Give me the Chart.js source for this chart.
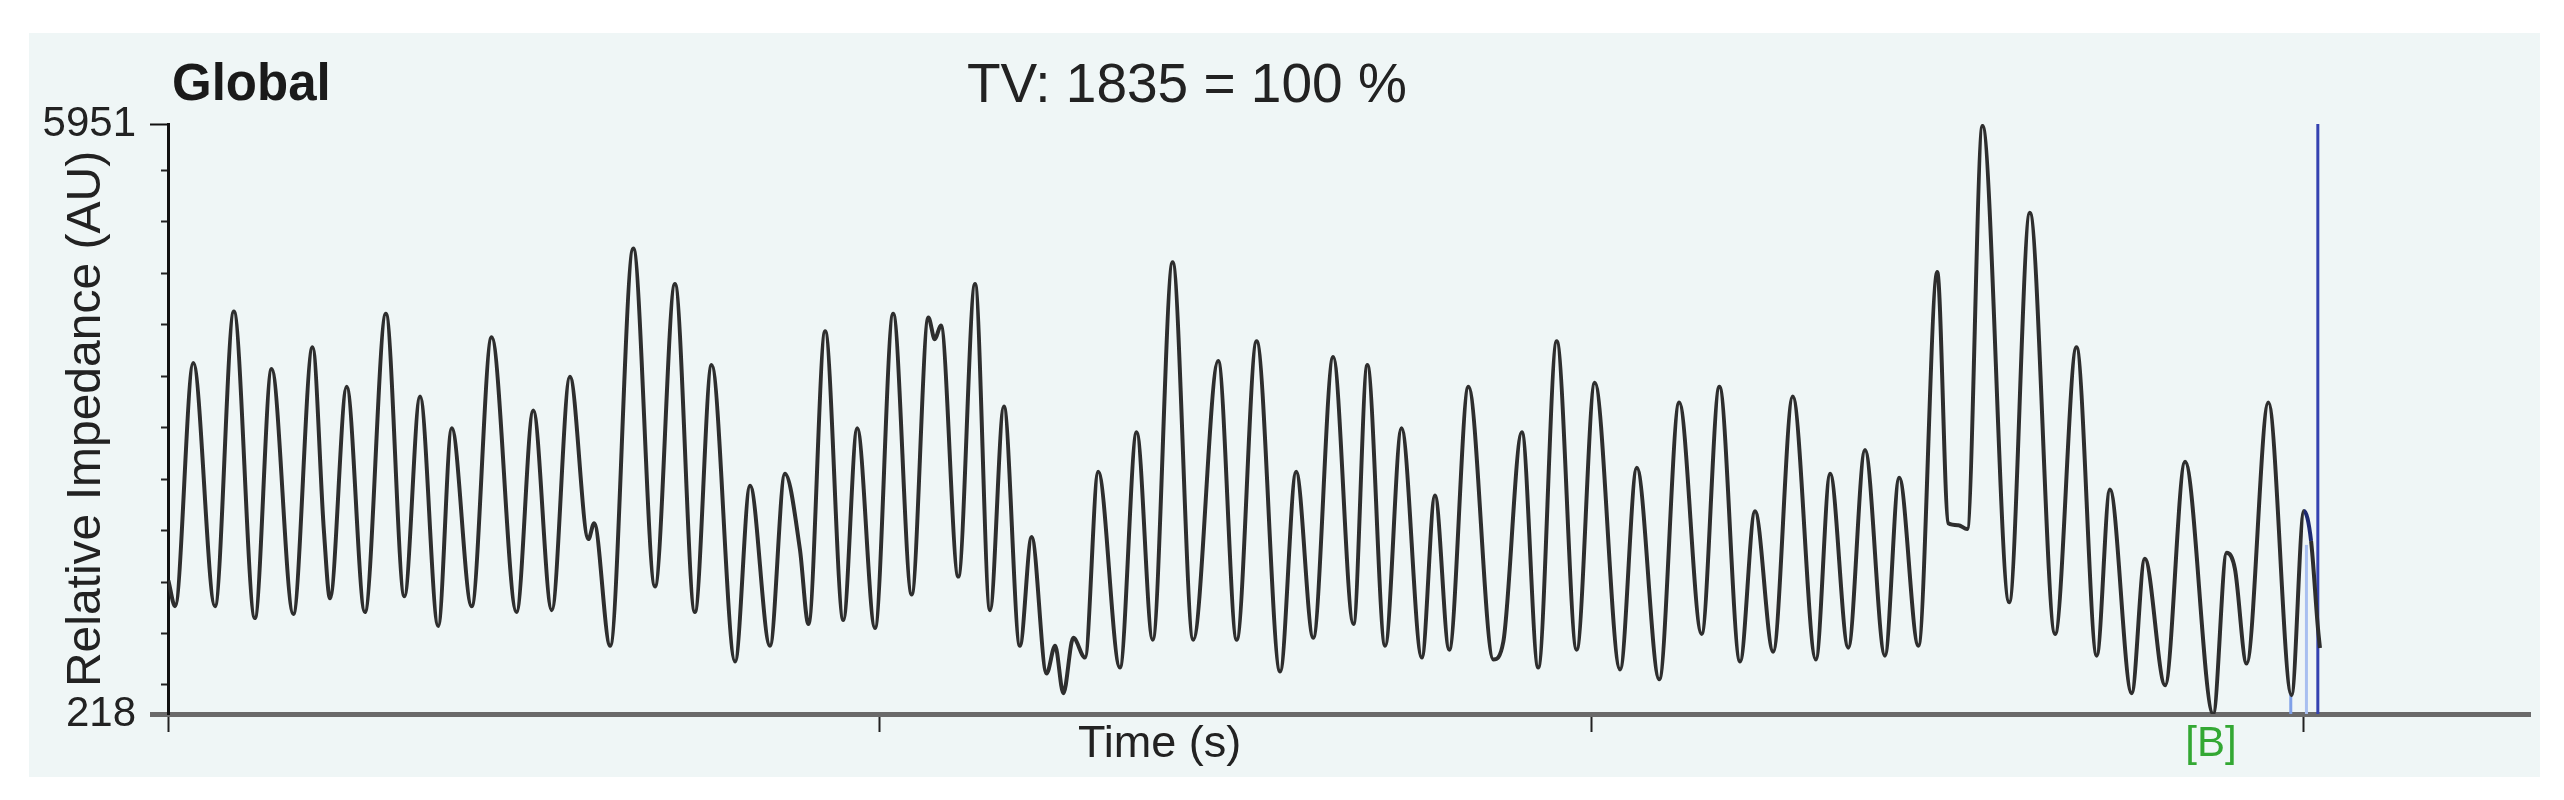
<!DOCTYPE html>
<html>
<head>
<meta charset="utf-8">
<title>Global - Relative Impedance</title>
<script src="https://cdn.jsdelivr.net/npm/chart.js@4.4.1/dist/chart.umd.min.js"></script>
<style>
  html, body { margin: 0; padding: 0; background: #fff; }
  #wrap  { position: relative; width: 2564px; height: 800px; }
  #panel { position: absolute; left: 29px; top: 33px; width: 2511px; height: 744px; background: #eff6f6; }
  #chart { position: absolute; left: 0; top: 0; }
</style>
</head>
<body>
<div id="wrap">
  <div id="panel"></div>
  <canvas id="chart" width="2564" height="800"></canvas>
</div>
<script>
// ── Data ──────────────────────────────────────────────────────────────────────
const timeSec = [
  0.01, 0.20, 0.71, 1.32, 1.85, 2.44, 2.91, 3.52, 4.06, 4.38, 4.55, 5.02, 5.53, 6.12, 6.64, 7.08, 7.59, 7.97, 8.53, 9.09, 9.79,
  10.26, 10.78, 11.29, 11.81, 11.97, 12.42, 13.07, 13.68, 14.24, 14.80, 15.27, 15.93, 16.35, 16.91, 17.33, 17.75, 17.99, 18.46, 18.97, 19.36, 19.86,
  20.37, 20.89, 21.36, 21.54, 21.71, 22.20, 22.67, 23.09, 23.48, 23.93, 24.26, 24.68, 24.92, 25.15, 25.43, 25.76, 26.13, 26.74, 27.21, 27.66, 28.22, 28.80, 29.50, 30.02,
  30.58, 31.24, 31.69, 32.17, 32.73, 33.30, 33.69, 34.19, 34.65, 35.22, 35.59, 35.99, 36.53, 37.23, 37.51, 38.03, 38.49, 39.01, 39.57, 40.08,
  40.79, 41.26, 41.89, 42.45, 43.08, 43.58, 44.16, 44.58, 45.09, 45.64, 46.29, 46.69, 47.20, 47.67, 48.23, 48.63, 49.17, 49.70, 50.01, 50.29,
  50.54, 50.97, 51.72, 52.30, 53.01, 53.61, 54.18, 54.55, 55.16, 55.53, 56.10, 56.66, 57.45, 57.83, 58.06, 58.39, 59.00, 59.65, 60.00, 60.20, 60.39, 60.45
];
const impedance = [
  1515, 1265, 3628, 1265, 4128, 1150, 3570, 1189, 3782, 1995, 1342, 3398, 1208, 4108, 1361, 3302, 1073, 2994, 1265, 3878, 1208,
  3167, 1227, 3494, 1918, 2072, 881, 4742, 1457, 4397, 1208, 3609, 728, 2437, 881, 2552, 1822, 1092, 3936, 1131, 2994, 1054,
  4108, 1380, 4070, 3859, 3993, 1553, 4397, 1227, 3206, 881, 1938, 612, 881, 420, 958, 766, 2571, 670, 2956, 939, 4608, 939, 3647, 939,
  3839, 631, 2571, 958, 3686, 1092, 3609, 881, 2994, 766, 2341, 843, 3398, 747, 920, 2956, 670, 3839, 843, 3436,
  651, 2610, 555, 3244, 996, 3398, 728, 2187, 824, 3302, 747, 2552, 862, 2783, 785, 2514, 881, 4512, 2072, 2053,
  2015, 5933, 1304, 5088, 996, 3782, 785, 2399, 420, 1726, 497, 2668, 218, 1784, 1630, 708, 3244, 401, 2191, 1900, 1063, 859
];

const yLimits     = [218, 5951];
const yMinorTicks = [500, 1000, 1500, 2000, 2500, 3000, 3500, 4000, 4500, 5000, 5500];
const xTicks      = [0, 20, 40, 60];
const xMax        = 66.35;

// cursor lines near the end of the trace
const cursorTime      = 60.39;
const markerTime      = 60.07;
const markerTop       = 1861;
const troughMarkTime  = 59.63;
const troughMarkTop   = 420;

const panelTitle = 'Global';
const tvText     = 'TV: 1835 = 100 %';
const xTitle     = 'Time (s)';
const yTitle     = 'Relative Impedance (AU)';
const breathMark = '[B]';

// ── Free text on the panel ────────────────────────────────────────────────────
const panelText = {
  id: 'panelText',
  afterDraw(chart) {
    const ctx = chart.ctx;
    ctx.save();
    ctx.textBaseline = 'alphabetic';
    ctx.textAlign = 'left';
    ctx.fillStyle = '#1a1a1a';
    ctx.font = 'bold 51px "Liberation Sans", Arial, sans-serif';
    ctx.fillText(panelTitle, 172, 100);

    ctx.fillStyle = '#222';
    ctx.font = '55px "Liberation Sans", Arial, sans-serif';
    ctx.fillText(tvText, 967, 102);

    ctx.font = '45px "Liberation Sans", Arial, sans-serif';
    ctx.fillText(xTitle, 1078, 757);

    ctx.textAlign = 'center';
    ctx.fillStyle = '#33a833';
    ctx.font = '42px "Liberation Sans", Arial, sans-serif';
    ctx.fillText(breathMark, 2211, 756);
    ctx.restore();
  }
};

const tickFont = { family: '"Liberation Sans", Arial, sans-serif', size: 42 };

new Chart(document.getElementById('chart'), {
  type: 'line',
  data: {
    datasets: [
      {
        data: timeSec.map((t, i) => ({ x: t, y: impedance[i] })),
        borderColor: '#2e2e2e',
        borderWidth: 4,
        pointRadius: 0,
        cubicInterpolationMode: 'monotone',
        segment: {
          borderColor: c => (c.p0.parsed.x >= 59.99 && c.p0.parsed.x < 60.1) ? '#1e2a70' : undefined,
        },
      },
      {
        data: [{ x: troughMarkTime, y: yLimits[0] }, { x: troughMarkTime, y: troughMarkTop }],
        borderColor: '#7fa0e8', borderWidth: 3, pointRadius: 0,
      },
      {
        data: [{ x: markerTime, y: yLimits[0] }, { x: markerTime, y: markerTop }],
        borderColor: '#a8bff0', borderWidth: 3, pointRadius: 0,
      },
      {
        data: [{ x: cursorTime, y: yLimits[0] }, { x: cursorTime, y: yLimits[1] }],
        borderColor: '#3442b0', borderWidth: 3, pointRadius: 0,
      },
    ]
  },
  options: {
    responsive: false,
    animation: false,
    layout: { padding: { left: 29, right: 34, top: 124, bottom: 0 } },
    plugins: { legend: { display: false }, tooltip: { enabled: false } },
    scales: {
      x: {
        type: 'linear',
        min: 0, max: xMax,
        afterBuildTicks: s => { s.ticks = xTicks.map(v => ({ value: v })); },
        afterFit: s => { s.height = 86; },
        ticks: { display: false },
        grid: { drawOnChartArea: false, tickLength: 18, tickColor: '#222', tickWidth: 2 },
        border: { display: true, color: '#6a6a6a', width: 5 },
      },
      y: {
        type: 'linear',
        position: 'left',
        weight: 1,
        min: yLimits[0], max: yLimits[1],
        afterBuildTicks: s => { s.ticks = yLimits.map(v => ({ value: v })); },
        afterFit: s => { s.width = 139; },
        ticks: { font: tickFont, color: '#222', padding: 14, callback: v => String(v) },
        grid: {
          drawOnChartArea: false,
          tickLength: 18,
          tickColor: c => c.tick && c.tick.value === yLimits[0] ? '#6a6a6a' : '#111',
          tickWidth: c => c.tick && c.tick.value === yLimits[0] ? 5 : 2,
        },
        border: { display: true, color: '#111', width: 3 },
        title: {
          display: true,
          text: yTitle,
          color: '#222',
          font: { family: '"Liberation Sans", Arial, sans-serif', size: 48 },
          padding: { top: 29, bottom: 0 },
        },
      },
      yMinor: {
        type: 'linear',
        position: 'left',
        weight: 0,
        min: yLimits[0], max: yLimits[1],
        afterBuildTicks: s => { s.ticks = yMinorTicks.map(v => ({ value: v })); },
        afterFit: s => { s.width = 0; },
        ticks: { display: false },
        grid: { drawOnChartArea: false, tickLength: 7, tickColor: '#222', tickWidth: 2 },
        border: { display: false },
      },
    }
  },
  plugins: [panelText]
});
</script>
</body>
</html>
